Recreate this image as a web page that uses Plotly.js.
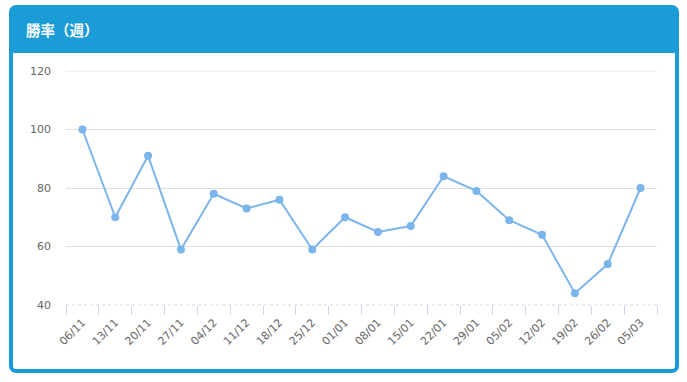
<!DOCTYPE html>
<html>
<head>
<meta charset="utf-8">
<script src="https://cdn.plot.ly/plotly-3.0.1.min.js"></script>
<style>
  html, body { margin: 0; padding: 0; background: #ffffff; }
  #wrap { position: relative; width: 687px; height: 382px; overflow: hidden; }
  #card { position: absolute; left: 9px; top: 53px; width: 662px; height: 316px;
          border: 4px solid #1b9cd7; border-top: none; border-radius: 0 0 7px 7px; background: #fff; }
  #head { position: absolute; left: 9px; top: 5px; width: 670px; height: 48px;
          background: #1b9cd7; border-radius: 7px 7px 0 0; }
  #chart { position: absolute; left: 0; top: 0; width: 687px; height: 382px; }
</style>
</head>
<body>
<div id="wrap">
  <div id="head"></div>
  <div id="card"></div>
  <div id="chart"></div>
</div>
<script>
const categories = ["06/11","13/11","20/11","27/11","04/12","11/12","18/12","25/12","01/01","08/01","15/01","22/01","29/01","05/02","12/02","19/02","26/02","05/03"];
const winRate = [100, 70, 91, 59, 78, 73, 76, 59, 70, 65, 67, 84, 79, 69, 64, 44, 54, 80];
const yTicks = [40, 60, 80, 100, 120];
const chartTitle = "勝率（週）";

const trace = {
  x: categories,
  y: winRate,
  type: "scatter",
  mode: "lines+markers",
  line: { color: "#7cb5ec", width: 2 },
  marker: { color: "#7cb5ec", size: 8 },
  hoverinfo: "x+y"
};

const yMax = yTicks[yTicks.length - 1];

const layout = {
  width: 687,
  height: 382,
  margin: { l: 66, r: 30, t: 71, b: 77 },
  paper_bgcolor: "rgba(0,0,0,0)",
  plot_bgcolor: "rgba(0,0,0,0)",
  showlegend: false,
  title: {
    text: "<b>" + chartTitle + "</b>",
    font: { family: "Noto Sans CJK JP, sans-serif", size: 14.5, color: "#ffffff" },
    xref: "container", yref: "container",
    x: 26 / 687, xanchor: "left",
    y: 1 - 31 / 382, yanchor: "middle"
  },
  xaxis: {
    type: "category",
    tickangle: -45,
    tickson: "boundaries",
    ticks: "outside",
    ticklen: 9,
    tickcolor: "#ccd6eb",
    tickwidth: 1,
    ticklabelstandoff: 8,
    showline: false,
    showgrid: false,
    zeroline: false,
    tickfont: { family: "DejaVu Sans, sans-serif", size: 11, color: "#666666" },
    range: [-0.5, categories.length - 0.5]
  },
  yaxis: {
    range: [yTicks[0], yMax],
    tickvals: yTicks,
    ticktext: yTicks.map(String),
    showgrid: true,
    gridcolor: "#e0e0e0",
    gridwidth: 1,
    zeroline: false,
    showline: false,
    ticks: "",
    ticklabelstandoff: 14,
    tickfont: { family: "DejaVu Sans, sans-serif", size: 11, color: "#666666" }
  },
  shapes: [
    { type: "line", xref: "paper", yref: "paper", x0: 0, x1: 1, y0: 0, y1: 0,
      line: { color: "#ccd6eb", width: 1, dash: "dot" } },
    { type: "line", xref: "paper", yref: "y", x0: 0, x1: 1, y0: yMax, y1: yMax,
      layer: "below", line: { color: "#e0e0e0", width: 1 } }
  ]
};

Plotly.newPlot("chart", [trace], layout, { displayModeBar: false });
</script>
</body>
</html>
